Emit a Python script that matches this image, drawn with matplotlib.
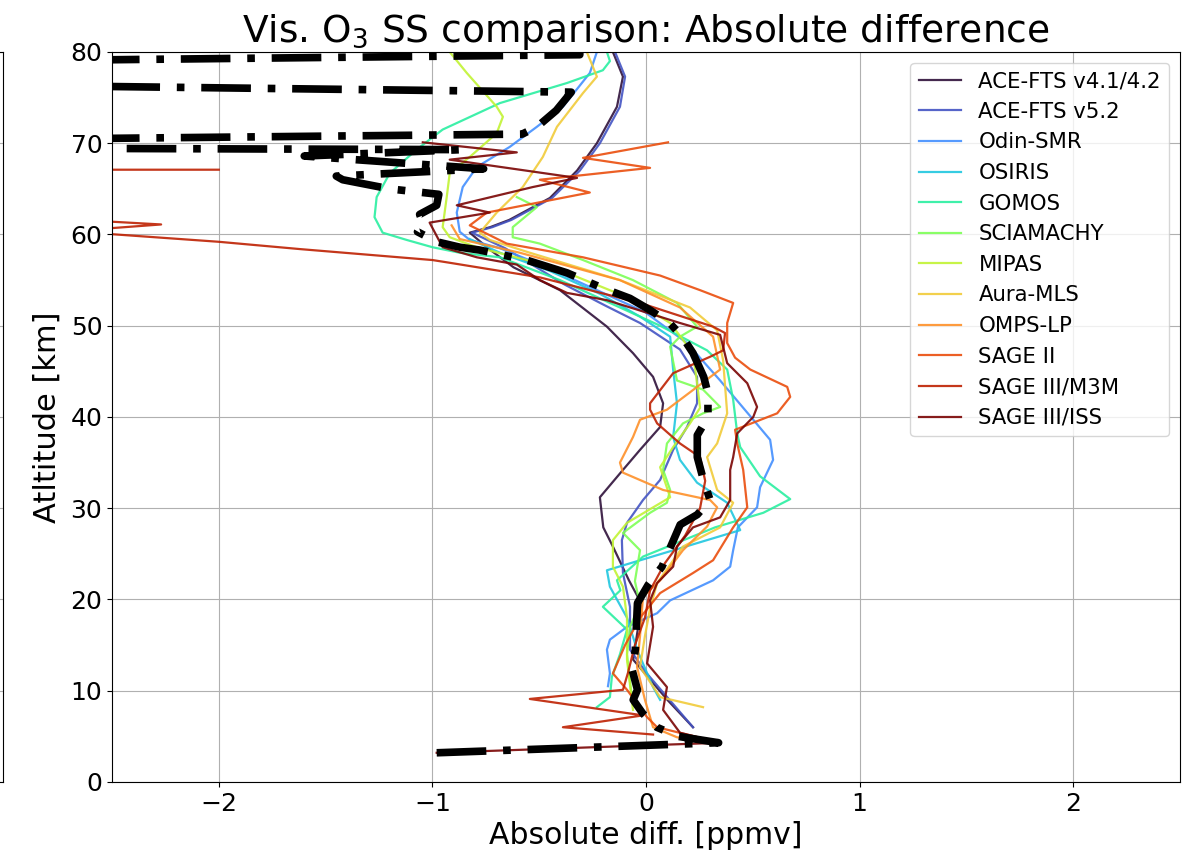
import numpy as np
import matplotlib
matplotlib.use("Agg")
import matplotlib.pyplot as plt

# altitude [km] / absolute difference [ppmv] for every instrument
ace41_alt = [6.0, 9.0, 13.4, 16.5, 19.5, 22.1, 25.8, 27.9, 31.2, 34.2, 36.4, 38.9, 41.5, 44.4, 47.0,
             49.9, 53.9, 56.4, 58.5, 60.2, 60.8, 61.6, 64.0, 67.0, 70.0, 74.0, 77.3, 80.0]
ace41_x = [0.22, 0.10, -0.06, -0.04, -0.02, -0.08, -0.155, -0.20, -0.216, -0.108, -0.028, 0.066, 0.08,
           0.033, -0.061, -0.183, -0.403, -0.62, -0.74, -0.825, -0.73, -0.64, -0.45, -0.323, -0.23,
           -0.136, -0.108, -0.155]

ace52_alt = [6, 9, 12, 14.5, 19.2, 22.9, 26.5, 28.4, 30.9, 33.1, 36.4, 38.9, 41.5, 44.4, 47.4, 50.3,
             52.2, 54.5, 56.5, 58.5, 60.2, 60.8, 61.6, 64, 67, 70, 74, 77.3, 80]
ace52_x = [0.22, 0.11, 0.0, -0.075, -0.075, -0.108, -0.113, -0.089, -0.014, 0.066, 0.127, 0.192, 0.239,
           0.239, 0.159, -0.028, -0.19, -0.38, -0.52, -0.66, -0.815, -0.72, -0.63, -0.44, -0.31, -0.216,
           -0.122, -0.098, -0.145]

odin_alt = [10.5, 11.9, 14.5, 15.6, 17, 18.5, 19.9, 22.1, 23.6, 25.4, 27.9, 30.1, 32.3, 35.3, 37.5,
            39.7, 44, 48.1, 51.5, 54, 56.5, 58.5, 59.4, 60.3, 62.4, 65.2, 67.4, 69.6, 71.8, 74, 77.7, 80]
odin_x = [-0.178, -0.169, -0.183, -0.169, -0.089, 0.052, 0.113, 0.314, 0.394, 0.408, 0.43, 0.520, 0.534,
          0.595, 0.581, 0.502, 0.347, 0.192, -0.005, -0.239, -0.474, -0.684, -0.825, -0.872, -0.886,
          -0.858, -0.792, -0.638, -0.511, -0.389, -0.263, -0.230]

osiris_alt = [9, 10.4, 14.5, 18, 21.4, 23.2, 27.6, 30.6, 32.8, 35.3, 37.8, 41.5, 45.2, 48.8, 51, 53.5,
              56, 58, 59.5]
osiris_x = [0.066, 0.033, -0.042, -0.089, -0.169, -0.183, 0.441, 0.380, 0.239, 0.159, 0.127, 0.145,
            0.127, 0.113, -0.028, -0.216, -0.450, -0.684, -0.825]

gomos_alt = [8.2, 9.3, 11.5, 14, 16.7, 19.2, 21, 22.1, 24.7, 27.9, 29.5, 31, 33.5, 36.7, 38.2, 41.9,
             45.2, 47.3, 50, 52, 55, 57.5, 58, 58.6, 59.4, 60.2, 61.9, 64.1, 66.7, 69.3, 71.5, 74.4,
             76.6, 78, 79, 80]
gomos_x = [-0.230, -0.169, -0.160, -0.122, -0.089, -0.202, -0.12, -0.136, -0.014, 0.323, 0.549, 0.675,
           0.534, 0.441, 0.427, 0.408, 0.380, 0.286, 0.066, -0.122, -0.403, -0.684, -0.872, -0.999,
           -1.120, -1.233, -1.271, -1.261, -1.200, -1.074, -0.952, -0.684, -0.370, -0.202, -0.169, -0.183]

scia_alt = [8.5, 11, 14, 17, 19.5, 22, 25.4, 27.3, 29.5, 30.6, 32, 34.2, 37.1, 39.3, 40.4, 41.1, 43,
            44, 47.7, 48.8, 49.9, 52.5, 55, 57.2, 59, 59.7, 60.8, 63, 64.1]
scia_x = [-0.061, -0.075, -0.089, -0.075, -0.028, -0.052, -0.028, -0.108, 0.019, 0.098, 0.113, 0.080,
          0.098, 0.173, 0.267, 0.347, 0.267, 0.145, 0.113, 0.159, 0.239, 0.145, -0.061, -0.295, -0.497,
          -0.624, -0.624, -0.511, -0.605]

mipas_alt = [7.9, 13.4, 18, 21.4, 23.6, 26.5, 28.4, 31.2, 34.5, 36.7, 39.3, 41, 43.7, 47, 50.3, 53,
             55.8, 57.2, 58.6, 59.7, 60.8, 64.1, 66.7, 68.5, 71.1, 72.9, 74, 77.7, 80]
mipas_x = [-0.061, -0.089, -0.089, -0.108, -0.155, -0.155, -0.089, 0.113, 0.066, 0.127, 0.206, 0.253,
           0.239, 0.22, 0.113, -0.075, -0.370, -0.558, -0.792, -0.919, -0.952, -0.933, -0.919, -0.825,
           -0.699, -0.670, -0.699, -0.839, -0.919]

mls_alt = [8.2, 9.3, 12.6, 16, 19, 21.8, 25.8, 27.9, 30.6, 32, 35.6, 37.1, 40.4, 46.2, 49.5, 52, 55,
           58, 59.4, 60.2, 62.4, 65.2, 68.5, 71.8, 75.5, 77.3, 80]
mls_x = [0.267, 0.066, -0.028, -0.005, 0.019, 0.052, 0.173, 0.347, 0.408, 0.333, 0.286, 0.333, 0.380,
         0.361, 0.333, 0.206, -0.122, -0.544, -0.731, -0.778, -0.699, -0.577, -0.483, -0.417, -0.295,
         -0.230, -0.277]

omps_alt = [4.3, 4.9, 6, 9, 12.6, 16, 20.3, 22.1, 25.4, 28, 30.1, 30.9, 32, 33.9, 35, 37.8, 39.7,
            40.8, 45.2, 48.8, 52, 55, 58, 59.5, 61]
omps_x = [0.347, 0.145, 0.033, -0.005, -0.042, -0.028, -0.014, 0.066, 0.173, 0.286, 0.333, 0.300,
          0.080, -0.108, -0.122, -0.061, -0.028, 0.098, 0.347, 0.314, 0.159, -0.122, -0.591, -0.872, -0.910]

sage2_alt = [4.3, 6, 7.1, 10.1, 11.9, 15, 18, 20.7, 22.9, 24.3, 27.9, 30.1, 34.2, 37.1, 38.6, 40.4,
             42.2, 43.3, 45.2, 46.5, 48.1, 50.3, 52.5, 53.9, 55.5, 57.5, 59, 61, 62.4, 64.6, 66, 67.3,
             68.4, 70.1]
sage2_x = [0.347, 0.052, 0.005, -0.089, -0.155, -0.098, -0.028, 0.066, 0.220, 0.314, 0.408, 0.474,
           0.455, 0.427, 0.417, 0.614, 0.675, 0.661, 0.488, 0.417, 0.380, 0.380, 0.408, 0.253, 0.066,
           -0.295, -0.652, -0.825, -0.745, -0.263, -0.497, 0.019, -0.295, 0.103]

m3m_alt = [5.2, 6.0, 7.3, 9.1, 10.1, 12, 15, 18, 21, 24, 27, 30, 33, 35.6, 37.1, 39.3, 40.8, 41.5,
           44.8, 46.6, 47.3, 49.2, 49.9, 52.5, 55.3, 56.9, 57.2, 58.4, 59.2, 60.2, 60.5, 60.7, 61.1,
           61.4, 61.5, 67.1, 67.1]
m3m_x = [0.033, -0.389, -0.014, -0.544, -0.108, -0.084, -0.052, -0.005, 0.019, 0.089, 0.183, 0.253,
         0.277, 0.253, 0.159, 0.052, 0.019, 0.019, 0.127, 0.300, 0.361, 0.370, 0.314, -0.028, -0.497,
         -0.919, -1.0, -1.62, -2.0, -2.6, -3.5, -2.5, -2.27, -2.5, -3.5, -3.5, -2.0]

iss_alt = [3.2, 4.3, 5.4, 7.9, 10.4, 13, 17, 19.9, 21.8, 23.6, 25.8, 27.9, 29, 30.9, 34.2, 35.6, 38.2,
           40, 41.1, 43.7, 45.9, 49, 50.3, 52.8, 53.6, 55, 56.7, 57.5, 58.6, 61.3, 62.4, 63.2, 65.2,
           66.2, 68.2, 69.0, 70.1]
iss_x = [-0.98, 0.347, 0.159, 0.080, 0.098, 0.005, 0.033, 0.019, 0.052, 0.127, 0.145, 0.220, 0.347,
         0.394, 0.394, 0.408, 0.427, 0.502, 0.520, 0.474, 0.380, 0.347, 0.159, -0.183, -0.37, -0.497,
         -0.605, -0.792, -0.952, -1.013, -0.731, -0.886, -0.530, -0.323, -0.919, -0.605, -1.045]

mean_alt = [3.2, 4.3, 5.0, 6.0, 7.5, 9.0, 10.1, 12.3, 14.5, 19.6, 21.6, 23.6, 28.2, 29.3, 30.9, 33.0,
            35.6, 38.0, 40.0, 42.6, 44.4, 47.0, 48.8, 50.3, 51.7, 53.0, 54.1, 55.8, 57.2, 58.3, 58.6,
            59.2, 60.3, 61.3, 62.2, 63.2, 64.4, 65.0, 66.0, 66.4, 67.2, 68.6, 69.3, 69.5, 70.3, 71.0,
            71.8, 73.6, 75.6, 76.5, 78.9, 79.7, 80.0]
mean_x = [-0.98, 0.34, 0.15, 0.05, -0.015, -0.06, -0.04, -0.065, -0.05, -0.04, 0.01, 0.075, 0.16, 0.24,
          0.30, 0.27, 0.24, 0.24, 0.29, 0.29, 0.27, 0.22, 0.17, 0.11, 0.02, -0.075, -0.20, -0.37, -0.56,
          -0.78, -0.87, -0.98, -1.07, -1.045, -1.06, -0.98, -0.97, -1.2, -1.42, -1.45, -0.76, -1.6,
          -0.86, -3.5, -3.5, -0.58, -0.51, -0.42, -0.35, -3.5, -3.5, -0.31, -0.31]

labels = ["ACE-FTS v4.1/4.2", "ACE-FTS v5.2", "Odin-SMR", "OSIRIS", "GOMOS", "SCIAMACHY",
          "MIPAS", "Aura-MLS", "OMPS-LP", "SAGE II", "SAGE III/M3M", "SAGE III/ISS"]
profiles = [(ace41_x, ace41_alt), (ace52_x, ace52_alt), (odin_x, odin_alt), (osiris_x, osiris_alt),
            (gomos_x, gomos_alt), (scia_x, scia_alt), (mipas_x, mipas_alt), (mls_x, mls_alt),
            (omps_x, omps_alt), (sage2_x, sage2_alt), (m3m_x, m3m_alt), (iss_x, iss_alt)]

colors = plt.cm.turbo(np.linspace(0, 1, len(labels)))

fig = plt.figure(figsize=(11.94, 8.68), dpi=100)

# edge of the neighbouring panel, cut off at the left border
axl = fig.add_axes([-0.3, 0.0991, 0.3 + 3 / 1194, 0.841])
axl.set_ylim(0, 80)
axl.set_xlim(0, 1)
axl.set_yticks(range(0, 81, 10))
axl.set_xticks([])
axl.grid(True)
axl.tick_params(labelleft=False)

ax = fig.add_axes([0.0938, 0.0991, 0.8945, 0.841])
for (x, alt), lab, c in zip(profiles, labels, colors):
    ax.plot(x, alt, color=c, lw=1.6, alpha=0.9, label=lab)
ax.plot(mean_x, mean_alt, color="black", lw=5.5, ls=(0, (6.5, 2.2, 1.0, 2.2)), zorder=5)

ax.set_xlim(-2.5, 2.5)
ax.set_ylim(0, 80)
ax.set_xticks([-2, -1, 0, 1, 2])
ax.set_yticks(range(0, 81, 10))
ax.grid(True)
ax.tick_params(labelsize=18)
ax.set_xlabel("Absolute diff. [ppmv]", fontsize=21.5)
ax.set_ylabel("Atltitude [km]", fontsize=22, labelpad=6)
ax.set_title(r"Vis. O$_3$ SS comparison: Absolute difference", fontsize=27)
ax.legend(loc="upper right", fontsize=15.3)

fig.savefig("out.png", dpi=100)
